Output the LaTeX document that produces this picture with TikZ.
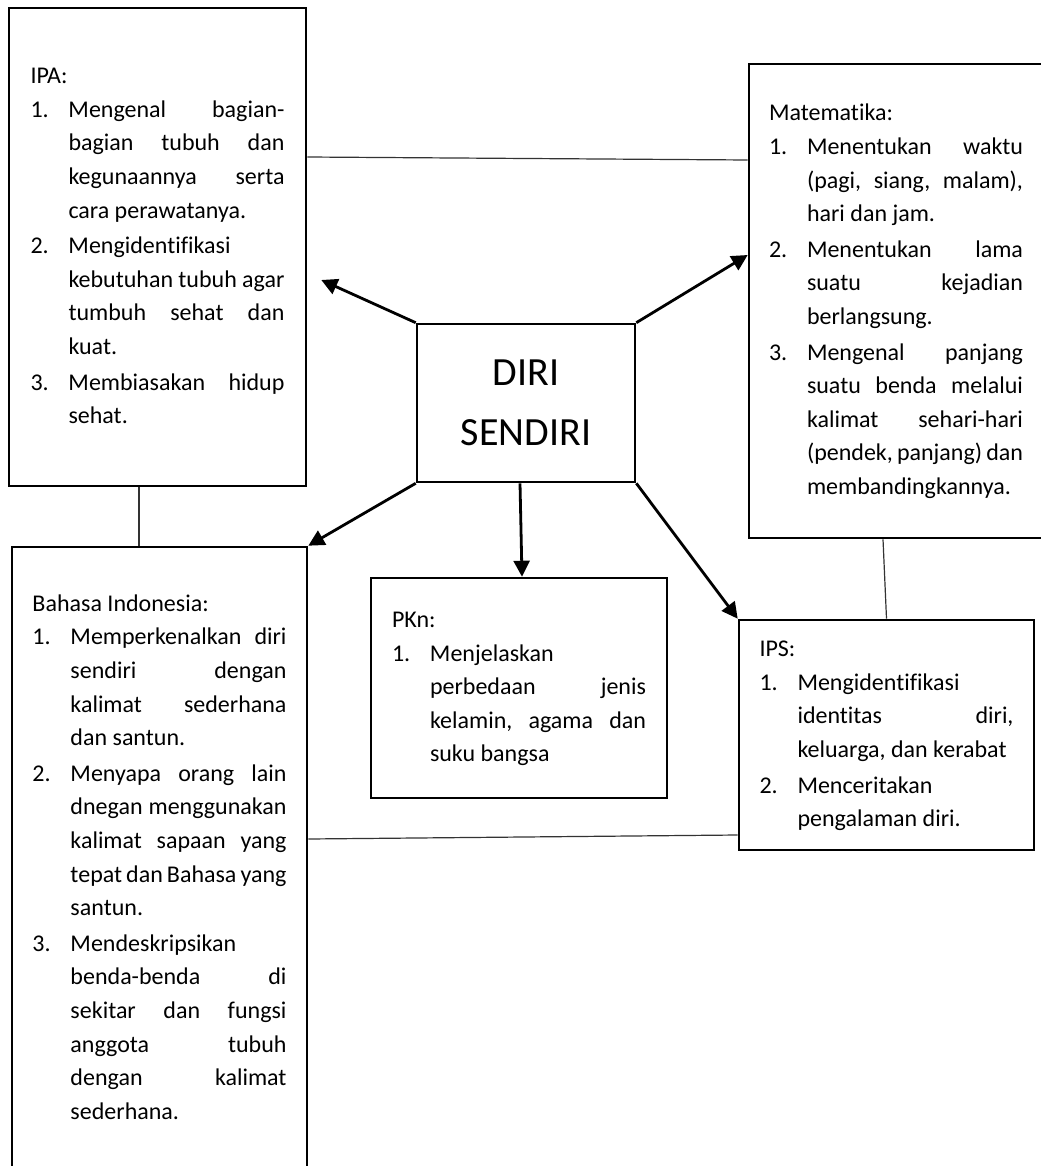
\documentclass[tikz,border=0pt]{standalone}
\usepackage{fontspec}
\setmainfont{Carlito}[Ligatures=NoCommon]
\usetikzlibrary{arrows.meta}
\newcommand{\isi}{\fontsize{12}{16.8}\selectfont\frenchspacing}
\newcommand{\rata}[1]{\hbox to \linewidth{\spaceskip=0pt\xspaceskip=0pt\strut #1}}
\newcommand{\akhir}[1]{\hbox{\spaceskip=0pt\xspaceskip=0pt\strut #1}}
\newcommand{\judul}[1]{\noindent\akhir{#1}\par}
\newcommand{\butir}[2]{\noindent\makebox[19pt][l]{#1}\parbox[t]{108pt}{#2}\par}

\begin{document}
\begin{tikzpicture}[x=0.5pt,y=-0.5pt,>={Triangle[length=8pt,width=8pt]},
        kotak/.style={draw,line width=1.3pt,inner sep=0pt,text width=127pt,align=left,font=\isi},
        pusat/.style={draw,line width=1.3pt,inner sep=0pt,align=center,font=\fontsize{20}{30}\selectfont,minimum width=109pt,minimum height=79pt},
        panah/.style={->,line width=1.4pt},
        garis/.style={line width=0.6pt,black!80}]
                \useasboundingbox (0,0) rectangle (1040,1166);
                \fill[white] (0,0) rectangle (1040,1166);
                \node[kotak,minimum width=148.5pt,minimum height=239pt] (ipa) at (157.5,247) {
                    \judul{IPA:}
                    \butir{1.}{\rata{Mengenal bagian-}\rata{bagian tubuh dan}\rata{kegunaannya serta}\akhir{cara perawatanya.}}
                    \butir{2.}{\akhir{Mengidentifikasi}\rata{kebutuhan tubuh agar}\rata{tumbuh sehat dan}\akhir{kuat.}}
                    \butir{3.}{\rata{Membiasakan hidup}\akhir{sehat.}}};
                \node[kotak,minimum width=147pt,minimum height=237pt] (mat) at (896,301) {
                    \judul{Matematika:}
                    \butir{1.}{\rata{Menentukan waktu}\rata{(pagi, siang, malam),}\akhir{hari dan jam.}}
                    \butir{2.}{\rata{Menentukan lama}\rata{suatu kejadian}\akhir{berlangsung.}}
                    \butir{3.}{\rata{Mengenal panjang}\rata{suatu benda melalui}\rata{kalimat sehari-hari}\rata{(pendek, panjang) dan}\akhir{membandingkannya.}}};
                \node[pusat] (diri) at (526,403) {DIRI\\SENDIRI};
                \node[kotak,minimum width=147.5pt,minimum height=311.5pt] (bahasa) at (159.5,858.5) {
                    \judul{Bahasa Indonesia:}
                    \butir{1.}{\rata{Memperkenalkan diri}\rata{sendiri dengan}\rata{kalimat sederhana}\akhir{dan santun.}}
                    \butir{2.}{\rata{Menyapa orang lain}\rata{dnegan menggunakan}\rata{kalimat sapaan yang}\rata{tepat dan Bahasa yang}\akhir{santun.}}
                    \butir{3.}{\akhir{Mendeskripsikan}\rata{benda-benda di}\rata{sekitar dan fungsi}\rata{anggota tubuh}\rata{dengan kalimat}\akhir{sederhana.}}};
                \node[kotak,minimum width=148pt,minimum height=110pt] (pkn) at (519,688) {
                    \judul{PKn:}
                    \butir{1.}{\akhir{Menjelaskan}\rata{perbedaan jenis}\rata{kelamin, agama dan}\akhir{suku bangsa}}};
                \node[kotak,minimum width=147.5pt,minimum height=115pt] (ips) at (886.5,735) {
                    \judul{IPS:}
                    \butir{1.}{\akhir{Mengidentifikasi}\rata{identitas diri,}\akhir{keluarga, dan kerabat}}
                    \butir{2.}{\akhir{Menceritakan}\akhir{pengalaman diri.}}};
                \path[panah] (diri.north west) edge ([xshift=7pt,yshift=-16.5pt]ipa.east)
                             (diri.north east) edge ([yshift=23pt]mat.west)
                             (diri.south west) edge (bahasa.north east)
                             ([xshift=-3pt]diri.south) edge ([xshift=1.5pt]pkn.north)
                             (diri.south east) edge (ips.north west);
                \draw[garis] ([yshift=45pt]ipa.east) -- ([yshift=70.5pt]mat.west);
                \draw[garis] ([xshift=-9.25pt]ipa.south) -- ([xshift=-10.25pt]bahasa.north);
                \draw[garis] ([xshift=-6.5pt]mat.south) -- (ips.north);
                \draw[garis] ([yshift=9.75pt]bahasa.east) -- ([yshift=-50pt]ips.west);
            \end{tikzpicture}
\end{document}
